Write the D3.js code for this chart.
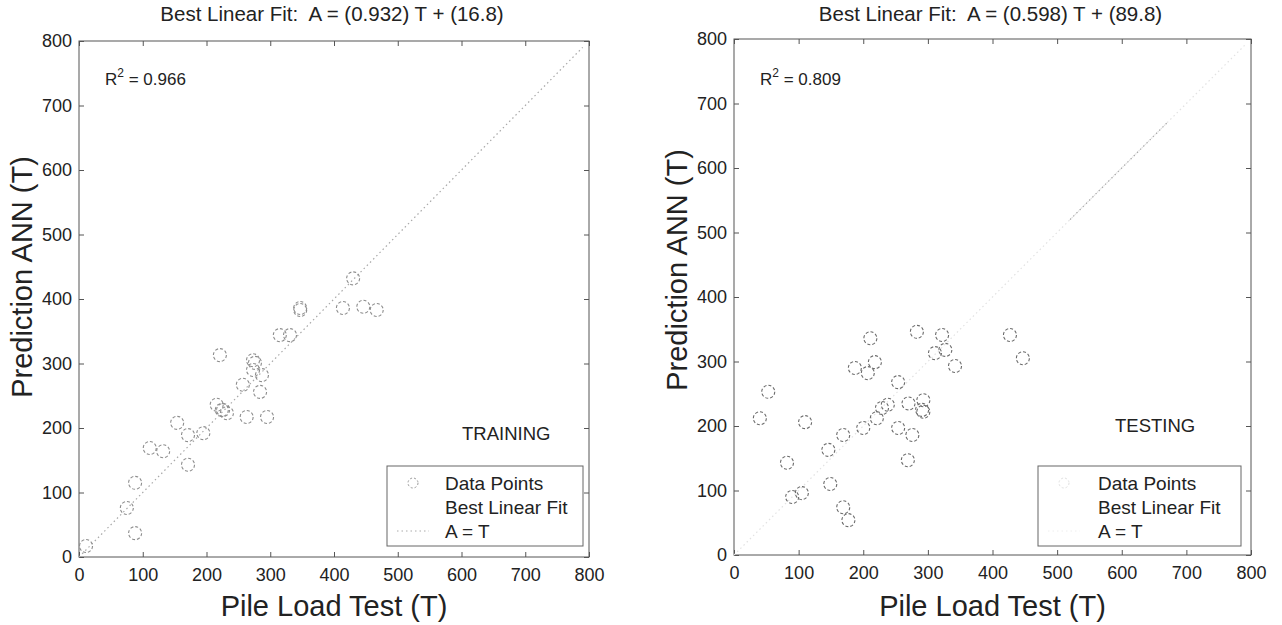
<!DOCTYPE html>
<html>
<head>
<meta charset="utf-8">
<script src="https://cdn.jsdelivr.net/npm/d3@7"></script>
<style>
  html, body { margin: 0; padding: 0; background: #fff; }
  svg { display: block; font-family: "Liberation Sans", Arial, sans-serif; }
</style>
</head>
<body>
<svg id="chart" width="1282" height="625"></svg>
<script>
// Training set: pile load test (T) vs ANN prediction (A)
const trainT = [11, 75, 88, 88, 111, 132, 154, 171, 171, 195, 221, 216, 224, 232, 226, 263, 295, 257, 273, 287, 284, 276, 273, 315, 331, 347, 347, 414, 430, 446, 467];
const trainA = [17, 76, 37, 115, 169, 164, 208, 189, 143, 192, 313, 236, 228, 223, 228, 217, 217, 267, 290, 282, 256, 301, 305, 344, 344, 386, 383, 386, 432, 388, 383];

// Testing set
const testT = [40, 53, 110, 82, 90, 105, 146, 149, 169, 177, 169, 200, 211, 187, 207, 218, 221, 229, 238, 254, 254, 269, 276, 270, 283, 291, 322, 327, 311, 342, 293, 293, 427, 447];
const testA = [212, 253, 206, 143, 90, 96, 163, 110, 74, 54, 186, 197, 336, 290, 282, 299, 212, 228, 233, 268, 197, 147, 186, 235, 346, 225, 341, 318, 313, 293, 240, 222, 341, 305];

const tickValues = [0, 100, 200, 300, 400, 500, 600, 700, 800];
const panelTitles = ["Best Linear Fit:\u00a0 A = (0.932) T + (16.8)", "Best Linear Fit:\u00a0 A = (0.598) T + (89.8)"];
const rSquaredValues = ["0.966", "0.809"];
const setNames = ["TRAINING", "TESTING"];
const legendLabels = ["Data Points", "Best Linear Fit", "A = T"];
const xLabel = "Pile Load Test (T)";
const yLabel = "Prediction ANN (T)";

const svg = d3.select("#chart");
const FONT = "'Liberation Sans', Arial, sans-serif";

const panels = [
  { T: trainT, A: trainA, box: { x0: 79, x1: 589, y0: 41, y1: 557 },
    legend: { x0: 387, x1: 583, y0: 466, y1: 546 }, setPos: [462, 433], yLabelCenter: 277,
    markColor: "#8c8c8c", idLineColor: "#a8a8a8", idStrong: null, legendMarker: true },
  { T: testT, A: testA, box: { x0: 734, x1: 1251, y0: 39, y1: 555 },
    legend: { x0: 1038, x1: 1241, y0: 466, y1: 546 }, setPos: [1115, 425], yLabelCenter: 270,
    markColor: "#6a6a6a", idLineColor: "#e2e2e2", idStrong: [520, 670], legendMarker: false }
];

panels.forEach((p, i) => {
  const b = p.box;
  const x = d3.scaleLinear().domain([0, 800]).range([b.x0, b.x1]);
  const y = d3.scaleLinear().domain([0, 800]).range([b.y1, b.y0]);
  const g = svg.append("g");

  // frame
  g.append("rect").attr("x", b.x0).attr("y", b.y0)
    .attr("width", b.x1 - b.x0).attr("height", b.y1 - b.y0)
    .attr("fill", "none").attr("stroke", "#555").attr("stroke-width", 1);

  // axes with inward ticks on all four sides
  const styleAxis = sel => {
    sel.select(".domain").remove();
    sel.selectAll("line").attr("stroke", "#555");
    sel.selectAll("text").attr("fill", "#222").style("font-size", "18px")
      .style("font-family", FONT);
  };
  g.append("g").attr("transform", `translate(0,${b.y1})`)
    .call(d3.axisBottom(x).tickValues(tickValues).tickSizeInner(-5).tickSizeOuter(0).tickPadding(11))
    .call(styleAxis);
  g.append("g").attr("transform", `translate(${b.x0},0)`)
    .call(d3.axisLeft(y).tickValues(tickValues).tickSizeInner(-5).tickSizeOuter(0).tickPadding(7))
    .call(styleAxis);
  g.append("g").attr("transform", `translate(0,${b.y0})`)
    .call(d3.axisTop(x).tickValues(tickValues).tickSizeInner(-5).tickSizeOuter(0).tickFormat(""))
    .call(styleAxis);
  g.append("g").attr("transform", `translate(${b.x1},0)`)
    .call(d3.axisRight(y).tickValues(tickValues).tickSizeInner(-5).tickSizeOuter(0).tickFormat(""))
    .call(styleAxis);

  // A = T reference line (dotted)
  g.append("line")
    .attr("x1", x(0)).attr("y1", y(0)).attr("x2", x(790)).attr("y2", y(790))
    .attr("stroke", p.idLineColor).attr("stroke-width", 1.2)
    .attr("stroke-dasharray", "1.5,3");
  if (p.idStrong) {
    g.append("line")
      .attr("x1", x(p.idStrong[0])).attr("y1", y(p.idStrong[0]))
      .attr("x2", x(p.idStrong[1])).attr("y2", y(p.idStrong[1]))
      .attr("stroke", "#a8a8a8").attr("stroke-width", 1.2)
      .attr("stroke-dasharray", "1.5,3");
  }

  // data points
  g.selectAll("circle.pt").data(p.T.map((t, k) => [t, p.A[k]]))
    .join("circle").attr("class", "pt")
    .attr("cx", d => x(d[0])).attr("cy", d => y(d[1])).attr("r", 6.5)
    .attr("fill", "none").attr("stroke", p.markColor).attr("stroke-width", 1.1)
    .attr("stroke-dasharray", "3,2");

  // title
  g.append("text").attr("x", (b.x0 + b.x1) / 2 - 2).attr("y", 21)
    .attr("text-anchor", "middle").style("font-size", "20.5px").attr("fill", "#222")
    .text(panelTitles[i]);

  // R^2 annotation
  const r2 = g.append("text").attr("x", b.x0 + 26).attr("y", 85)
    .style("font-size", "17px").attr("fill", "#222");
  r2.append("tspan").text("R");
  r2.append("tspan").attr("dy", -8).style("font-size", "12px").text("2");
  r2.append("tspan").attr("dy", 8).text(" = " + rSquaredValues[i]);

  // set label
  g.append("text").attr("x", p.setPos[0]).attr("y", p.setPos[1] + 7)
    .style("font-size", "18.5px").attr("fill", "#222").text(setNames[i]);

  // legend
  const L = p.legend;
  g.append("rect").attr("x", L.x0).attr("y", L.y0)
    .attr("width", L.x1 - L.x0).attr("height", L.y1 - L.y0)
    .attr("fill", "#fff").attr("stroke", "#666").attr("stroke-width", 1);
  const lx = L.x0 + (i === 0 ? 58 : 60);
  legendLabels.forEach((lab, k) => {
    g.append("text").attr("x", lx).attr("y", L.y0 + 24 + k * 24)
      .style("font-size", "19px").attr("fill", "#222").text(lab);
  });
  g.append("circle").attr("cx", L.x0 + 26).attr("cy", L.y0 + 17).attr("r", 5)
    .attr("fill", "none").attr("stroke", p.legendMarker ? "#999" : "#e0e0e0")
    .attr("stroke-dasharray", "2,2");
  g.append("line").attr("x1", L.x0 + 10).attr("x2", L.x0 + 42)
    .attr("y1", L.y0 + 65).attr("y2", L.y0 + 65)
    .attr("stroke", p.legendMarker ? "#aaa" : "#eee").attr("stroke-dasharray", "1.5,3");

  // axis labels
  g.append("text").attr("x", (b.x0 + b.x1) / 2).attr("y", 616)
    .attr("text-anchor", "middle").style("font-size", "29px").attr("fill", "#222")
    .text(xLabel);
  g.append("text")
    .attr("transform", `translate(${b.x0 - 47},${p.yLabelCenter}) rotate(-90)`)
    .attr("text-anchor", "middle").style("font-size", "29px").attr("fill", "#222")
    .text(yLabel);
});
</script>
</body>
</html>
